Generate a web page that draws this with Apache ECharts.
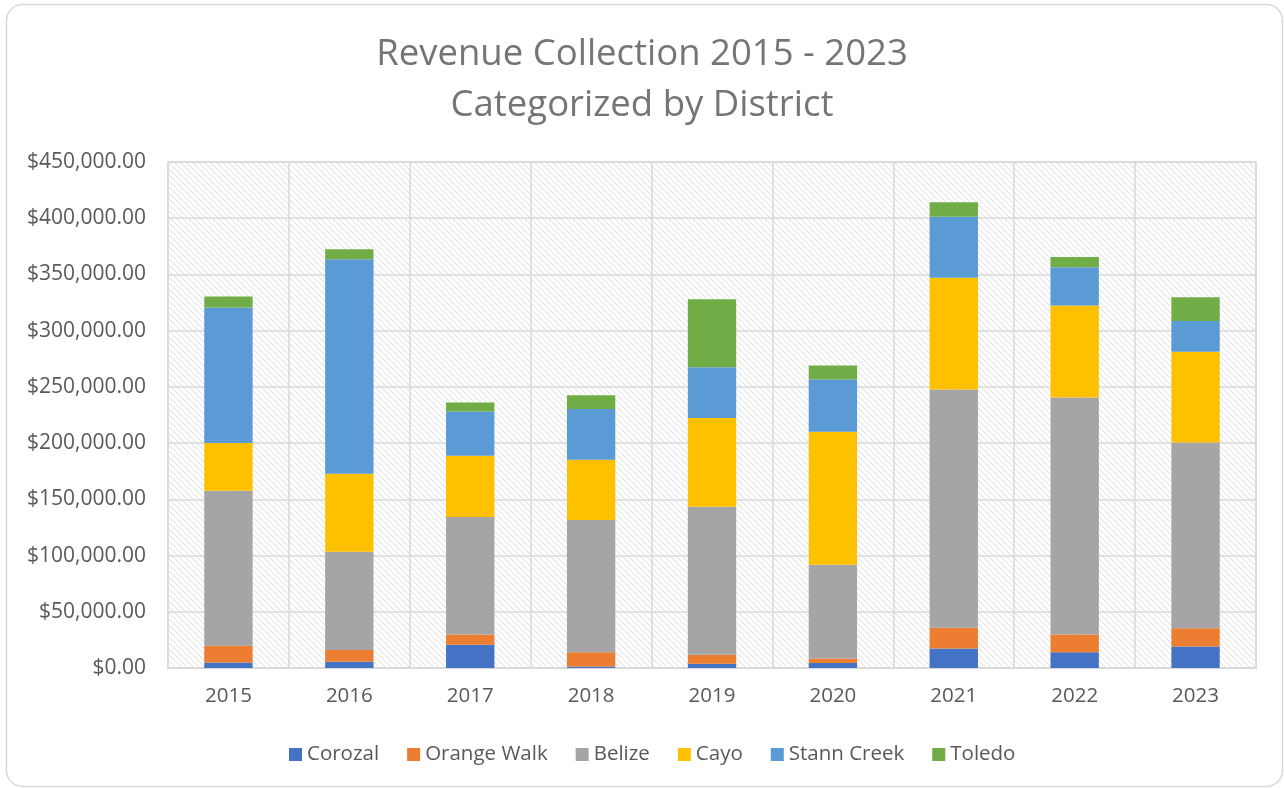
<!DOCTYPE html>
<html>
<head>
<meta charset="utf-8">
<script src="https://cdn.jsdelivr.net/npm/echarts@6/dist/echarts.min.js"></script>
<style>
  html, body { margin: 0; padding: 0; background: #fff; }
  #chart { width: 1284px; height: 788px; }
</style>
</head>
<body>
<div id="chart"></div>
<script>
// categories / values
const years = ['2015', '2016', '2017', '2018', '2019', '2020', '2021', '2022', '2023']
const corozal = [5000, 5600, 20700, 1300, 3700, 4400, 17400, 13900, 19200]
const orangeWalk = [14800, 10400, 9200, 12700, 8000, 4100, 18400, 16000, 16200]
const belize = [137800, 87400, 104300, 117600, 131600, 83300, 211900, 210600, 165100]
const cayo = [42400, 69300, 54500, 53700, 79100, 118200, 99300, 81800, 80700]
const stannCreek = [120700, 190900, 39500, 45000, 45000, 46500, 54400, 34100, 27500]
const toledo = [9700, 8900, 8000, 12200, 60500, 12500, 12800, 9200, 21100]

const seriesNames = ['Corozal', 'Orange Walk', 'Belize', 'Cayo', 'Stann Creek', 'Toledo']
const seriesData = [corozal, orangeWalk, belize, cayo, stannCreek, toledo]
const colors = ['#4472C4', '#ED7D31', '#A5A5A5', '#FFC000', '#5B9BD5', '#70AD47']

const font = '"Open Sans", "DejaVu Sans", sans-serif'

// diagonal hatch for the plot area
function hatch() {
  let c = document.createElement('canvas')
  c.width = 6
  c.height = 6
  let ctx = c.getContext('2d')
  ctx.fillStyle = '#ffffff'
  ctx.fillRect(0, 0, 6, 6)
  ctx.strokeStyle = '#dedede'
  ctx.lineWidth = 1
  ctx.beginPath()
  ctx.moveTo(-1, -1)
  ctx.lineTo(7, 7)
  ctx.moveTo(-1, 5)
  ctx.lineTo(1, 7)
  ctx.moveTo(5, -1)
  ctx.lineTo(7, 1)
  ctx.stroke()
  return c
}

const chart = echarts.init(document.getElementById('chart'))

let option = {
  backgroundColor: '#ffffff',
  animation: false,
  title: {
    text: 'Revenue Collection 2015 - 2023\nCategorized by District',
    left: 'center',
    top: 29,
    padding: 0,
    textStyle: {
      color: '#757575',
      fontFamily: font,
      fontSize: 36.5,
      fontWeight: 'normal',
      lineHeight: 51,
    },
  },
  graphic: [
    {
      type: 'rect',
      silent: true,
      shape: { x: 6.5, y: 4.5, width: 1276, height: 782, r: 16 },
      style: { fill: 'none', stroke: '#d9d9d9', lineWidth: 1.5 },
    },
  ],
  legend: {
    data: seriesNames,
    left: 284,
    top: 739,
    itemWidth: 13,
    itemHeight: 13,
    itemGap: 28,
    icon: 'rect',
    textStyle: { color: '#595959', fontFamily: font, fontSize: 20.5 },
  },
  grid: {
    left: 168,
    right: 28,
    top: 162,
    bottom: 120,
    show: true,
    backgroundColor: { image: hatch(), repeat: 'repeat' },
    borderColor: '#d9d9d9',
    borderWidth: 1.5,
  },
  xAxis: {
    type: 'category',
    data: years,
    axisTick: { show: false },
    axisLine: { lineStyle: { color: '#d9d9d9', width: 2 } },
    splitLine: { show: true, lineStyle: { color: '#d9d9d9', width: 1.5 } },
    axisLabel: { color: '#595959', fontFamily: font, fontSize: 20.5, margin: 18 },
  },
  yAxis: {
    type: 'value',
    min: 0,
    max: 450000,
    interval: 50000,
    axisLine: { show: false },
    axisTick: { show: false },
    splitLine: { lineStyle: { color: '#d9d9d9', width: 1.5 } },
    axisLabel: {
      color: '#595959',
      fontFamily: font,
      fontSize: 21,
      margin: 22,
      formatter: (v) => '$' + v.toLocaleString('en-US', { minimumFractionDigits: 2, maximumFractionDigits: 2 }),
    },
  },
  series: seriesNames.map((name, i) => ({
    name: name,
    type: 'bar',
    stack: 'total',
    barWidth: '40%',
    itemStyle: { color: colors[i] },
    data: seriesData[i],
  })),
}

chart.setOption(option)
</script>
</body>
</html>
